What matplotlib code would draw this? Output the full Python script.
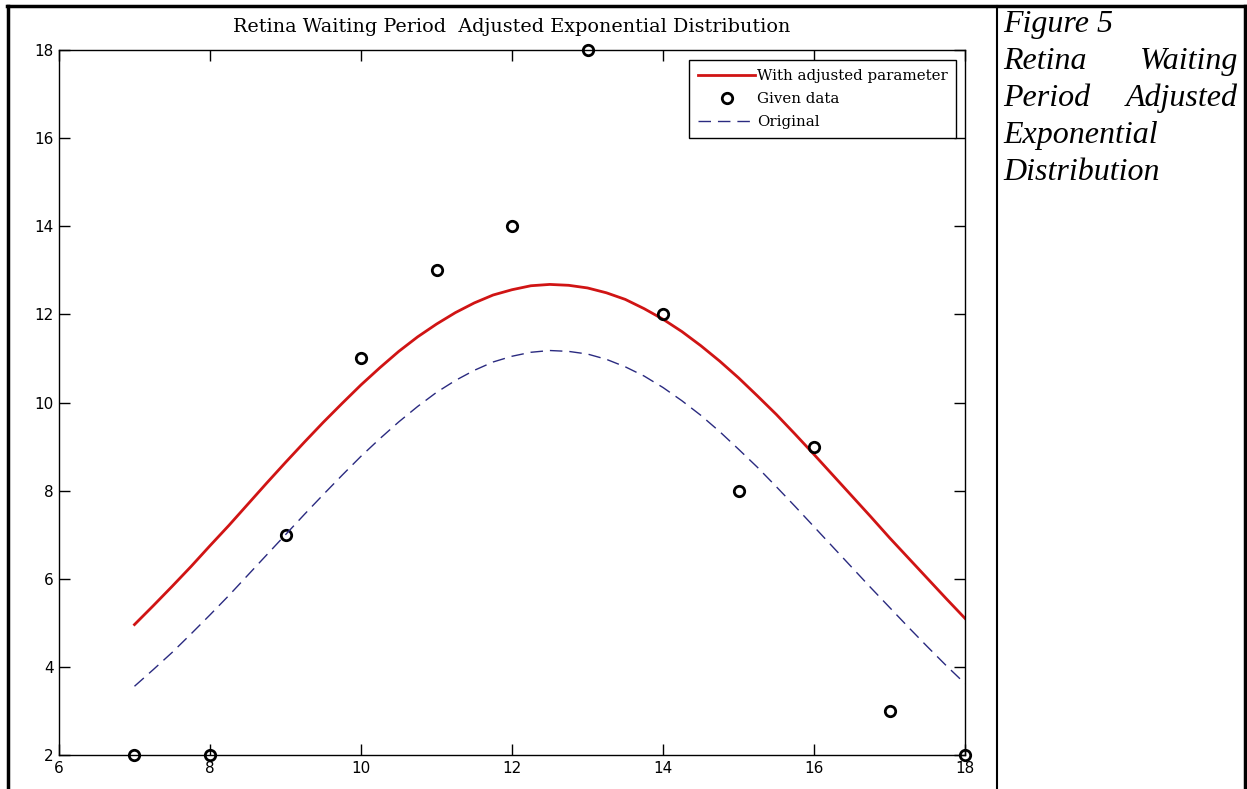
import matplotlib.pyplot as plt
from matplotlib.lines import Line2D

# given data
days = [7, 8, 9, 10, 11, 12, 13, 14, 15, 16, 17, 18]
counts = [2, 2, 7, 11, 13, 14, 18, 12, 8, 9, 3, 2]

# curves (every 0.25)
xc = [7.00, 7.25, 7.50, 7.75, 8.00, 8.25, 8.50, 8.75, 9.00, 9.25, 9.50, 9.75,
      10.00, 10.25, 10.50, 10.75, 11.00, 11.25, 11.50, 11.75, 12.00, 12.25, 12.50, 12.75,
      13.00, 13.25, 13.50, 13.75, 14.00, 14.25, 14.50, 14.75, 15.00, 15.25, 15.50, 15.75,
      16.00, 16.25, 16.50, 16.75, 17.00, 17.25, 17.50, 17.75, 18.00]
adjusted = [4.96, 5.39, 5.83, 6.28, 6.75, 7.21, 7.69, 8.17, 8.64, 9.10, 9.55, 9.98,
            10.40, 10.79, 11.16, 11.49, 11.78, 12.04, 12.26, 12.44, 12.56, 12.65, 12.68, 12.66,
            12.60, 12.49, 12.34, 12.13, 11.89, 11.61, 11.29, 10.94, 10.56, 10.15, 9.73, 9.28,
            8.82, 8.35, 7.88, 7.41, 6.93, 6.47, 6.01, 5.55, 5.10]
original = [3.56, 3.94, 4.33, 4.75, 5.18, 5.62, 6.08, 6.54, 7.00, 7.46, 7.91, 8.35,
            8.78, 9.18, 9.56, 9.91, 10.23, 10.50, 10.73, 10.92, 11.05, 11.14, 11.18, 11.16,
            11.10, 10.98, 10.81, 10.60, 10.34, 10.04, 9.71, 9.34, 8.94, 8.53, 8.09, 7.64,
            7.18, 6.72, 6.26, 5.80, 5.35, 4.90, 4.46, 4.03, 3.62]

xticks = [6, 8, 10, 12, 14, 16, 18]
yticks = [2, 4, 6, 8, 10, 12, 14, 16, 18]

fig = plt.figure(figsize=(12.47, 7.89), dpi=100)
ax = fig.add_axes([0.0473, 0.0431, 0.7266, 0.8935])

ax.plot(xc, adjusted, color='#d01414', lw=2.0, label='With adjusted parameter')
ax.plot(days, counts, 'o', mfc='none', mec='black', mew=2, ms=7.5, clip_on=False,
        label='Given data')
ax.plot(xc, original, '--', color='#2a2a80', lw=1.0, dashes=(9, 5), label='Original')

ax.set_xlim(6, 18)
ax.set_ylim(2, 18)
ax.set_xticks(xticks)
ax.set_yticks(yticks)
ax.tick_params(direction='in', length=8, width=1, top=True, right=True,
               labelsize=11, pad=4)
for s in ax.spines.values():
    s.set_linewidth(1.0)

ax.set_title('Retina Waiting Period  Adjusted Exponential Distribution',
             family='DejaVu Serif', fontsize=13.8, pad=13)

leg = ax.legend(loc='upper right', bbox_to_anchor=(0.9905, 0.986),
                prop={'family': 'DejaVu Serif', 'size': 10.8},
                fancybox=False, edgecolor='black', framealpha=1,
                handlelength=3.8, handletextpad=0.1, borderpad=0.6,
                labelspacing=0.62, borderaxespad=0.0)
leg.get_frame().set_linewidth(1.0)

# table borders
def vline(x, y0, y1, lw):
    fig.add_artist(Line2D([x / 1247, x / 1247], [1 - y0 / 789, 1 - y1 / 789],
                          color='black', lw=lw, transform=fig.transFigure))

def hline(y, x0, x1, lw):
    fig.add_artist(Line2D([x0 / 1247, x1 / 1247], [1 - y / 789, 1 - y / 789],
                          color='black', lw=lw, transform=fig.transFigure))

vline(8, 6, 789, 2.5)
vline(997, 6, 789, 1.5)
vline(1245, 6, 789, 2.5)
hline(6, 7, 1246, 2.5)

# caption cell
cap = dict(family='Liberation Serif', style='italic', fontsize=23,
           va='baseline', transform=fig.transFigure)
fig.text(1003 / 1247, 1 - 32 / 789, 'Figure 5', ha='left', **cap)
fig.text(1003 / 1247, 1 - 69 / 789, 'Retina', ha='left', **cap)
fig.text(1238 / 1247, 1 - 69 / 789, 'Waiting', ha='right', **cap)
fig.text(1003 / 1247, 1 - 106 / 789, 'Period', ha='left', **cap)
fig.text(1238 / 1247, 1 - 106 / 789, 'Adjusted', ha='right', **cap)
fig.text(1003 / 1247, 1 - 143 / 789, 'Exponential', ha='left', **cap)
fig.text(1003 / 1247, 1 - 180 / 789, 'Distribution', ha='left', **cap)

fig.savefig('out.png', dpi=100)
